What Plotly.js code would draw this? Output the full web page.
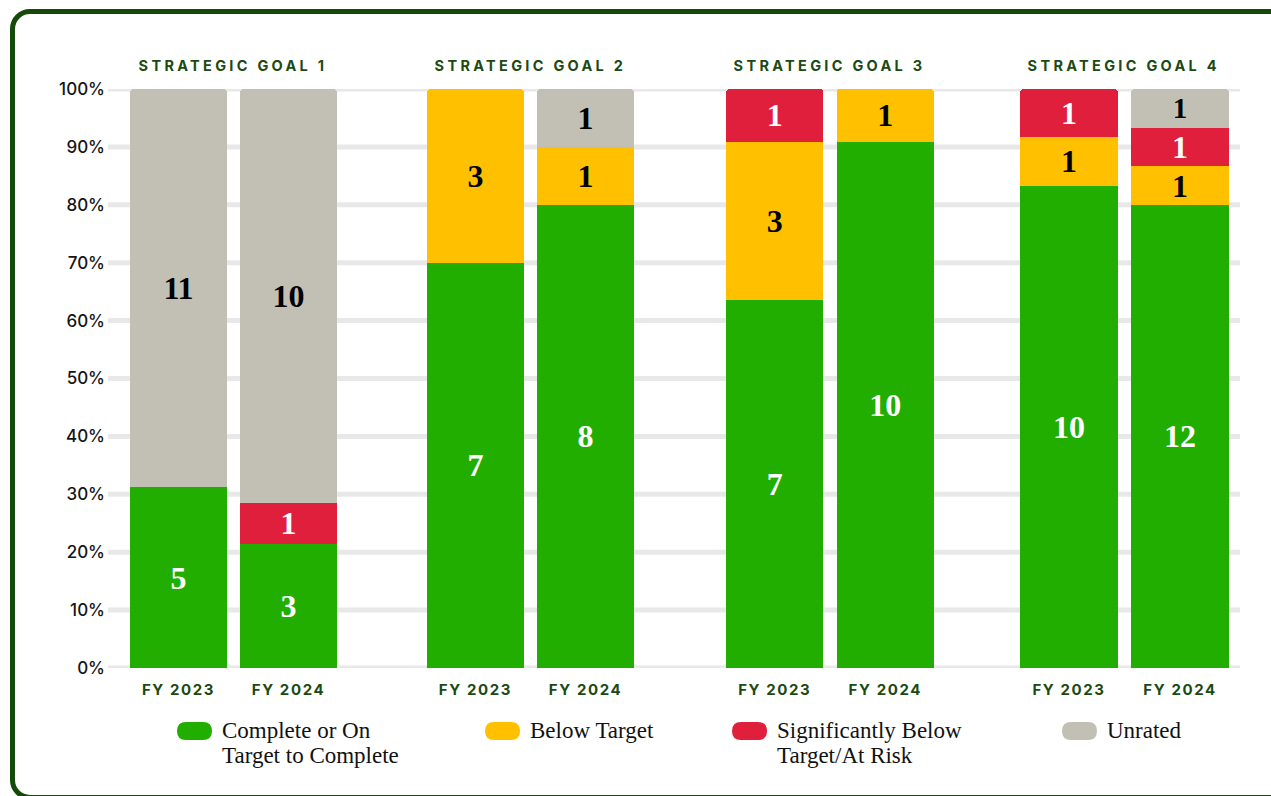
<!DOCTYPE html>
<html>
<head>
<meta charset="utf-8">
<script src="https://cdn.plot.ly/plotly-3.0.1.min.js"></script>
<style>
  html, body { margin: 0; padding: 0; background: #ffffff; }
  #wrap { position: relative; width: 1271px; height: 796px; overflow: hidden; }
  #frame { position: absolute; left: 10px; top: 9px; width: 1290px; height: 791px;
           border: 5px solid #164A0A; border-radius: 20px; box-sizing: border-box; }
  #chart { position: absolute; left: 0; top: 0; width: 1271px; height: 796px; }
  .xtick text, .x2tick text, .x3tick text, .x4tick text { letter-spacing: 1.6px; }
  .annotation[data-index="0"] text, .annotation[data-index="1"] text,
  .annotation[data-index="2"] text, .annotation[data-index="3"] text { letter-spacing: 3.3px; }
</style>
</head>
<body>
<div id="wrap">
  <div id="frame"></div>
  <div id="chart"></div>
</div>
<script>
// ---- data ----
const categories = ['FY 2023', 'FY 2024'];
const goals = ['STRATEGIC GOAL 1', 'STRATEGIC GOAL 2', 'STRATEGIC GOAL 3', 'STRATEGIC GOAL 4'];
const seriesNames = ['Complete or On<br>Target to Complete', 'Below Target', 'Significantly Below<br>Target/At Risk', 'Unrated'];
// per goal: [FY 2023, FY 2024]
const complete  = [[5, 3], [7, 8], [7, 10], [10, 12]];
const below     = [[0, 0], [3, 1], [3, 1], [1, 1]];
const sigBelow  = [[0, 1], [0, 0], [1, 0], [1, 1]];
const unrated   = [[11, 10], [0, 1], [0, 0], [0, 1]];
const yTicks = [0, 10, 20, 30, 40, 50, 60, 70, 80, 90, 100];
const yTickText = ['0%', '10%', '20%', '30%', '40%', '50%', '60%', '70%', '80%', '90%', '100%'];

// ---- styles ----
const colors = ['#22AE00', '#FFC000', '#E01F3D', '#C2BFB4'];
const textColors = ['#FFFFFF', '#000000', '#FFFFFF', '#000000'];
const seriesData = [complete, below, sigBelow, unrated];
const domains = [[0.0137, 0.2080], [0.2760, 0.4704], [0.5402, 0.7354], [0.7999, 0.9960]];
const titleGreen = '#1B4A12';
const sansFont = 'Inter, "Open Sans", sans-serif';
const serifFont = '"Liberation Serif", "DejaVu Serif", serif';

const traces = [];
goals.forEach((g, gi) => {
  const ax = gi === 0 ? '' : String(gi + 1);
  seriesData.forEach((series, si) => {
    const vals = series[gi];
    traces.push({
      type: 'bar',
      x: categories,
      y: vals,
      xaxis: 'x' + ax,
      yaxis: 'y' + ax,
      name: seriesNames[si],
      marker: { color: colors[si], line: { width: 0 } },
      text: vals.map(v => v ? String(v) : ''),
      textposition: 'inside',
      insidetextanchor: 'middle',
      textangle: 0,
      constraintext: 'none',
      textfont: { family: serifFont, size: 32, color: textColors[si], weight: 700 },
      hoverinfo: 'skip',
      showlegend: false
    });
  });
});

const layout = {
  width: 1271, height: 796,
  margin: { l: 108, r: 31, t: 89, b: 128 },
  paper_bgcolor: 'rgba(0,0,0,0)',
  plot_bgcolor: 'rgba(0,0,0,0)',
  barmode: 'stack',
  barnorm: 'percent',
  bargap: 0.118,
  barcornerradius: 4,
  showlegend: false,
  shapes: [],
  annotations: []
};

goals.forEach((g, gi) => {
  const ax = gi === 0 ? '' : String(gi + 1);
  layout['xaxis' + ax] = {
    domain: domains[gi],
    anchor: 'y' + ax,
    type: 'category',
    showgrid: false, zeroline: false, showline: false, ticks: '',
    ticklabelstandoff: 11,
    tickfont: { family: sansFont, size: 15, color: titleGreen, weight: 700 },
    fixedrange: true
  };
  if (gi === 0) {
    layout.yaxis = {
      range: [0, 100], anchor: 'free', position: 0,
      showgrid: false, zeroline: false, showline: false, ticks: '',
      tickmode: 'array', tickvals: yTicks, ticktext: yTickText,
      ticklabelstandoff: 3,
      tickfont: { family: sansFont, size: 17, color: '#151515', weight: 500 },
      fixedrange: true
    };
  } else {
    layout['yaxis' + ax] = {
      range: [0, 100], anchor: 'x' + ax, visible: false,
      showgrid: false, zeroline: false, fixedrange: true
    };
  }
  layout.annotations.push({
    text: g, xref: 'x' + ax + ' domain', yref: 'paper',
    x: 0.5, y: 1, yanchor: 'bottom', xanchor: 'center', yshift: 13, showarrow: false,
    font: { family: sansFont, size: 14.5, color: titleGreen, weight: 700 }
  });
});

// gridlines spanning full width
yTicks.forEach(t => {
  layout.shapes.push({
    type: 'line', xref: 'paper', yref: 'y', x0: 0, x1: 1, y0: t, y1: t,
    line: { color: '#E8E8E8', width: 5 }, layer: 'below'
  });
});

// custom legend with pill markers
const legendX = [177, 485, 732, 1062];   // pixel left of pill
const plotL = 108, plotW = 1271 - 108 - 31, plotT = 89, plotH = 796 - 89 - 128;
const px = v => (v - plotL) / plotW;
const py = v => 1 - (v - plotT) / plotH;
seriesNames.forEach((name, si) => {
  const x0 = legendX[si], x1 = x0 + 35, yTop = 722, yBot = 740, r = 9;
  const path = `M ${px(x0 + r)} ${py(yTop)} L ${px(x1 - r)} ${py(yTop)} ` +
    `Q ${px(x1)} ${py(yTop)} ${px(x1)} ${py((yTop + yBot) / 2)} ` +
    `Q ${px(x1)} ${py(yBot)} ${px(x1 - r)} ${py(yBot)} ` +
    `L ${px(x0 + r)} ${py(yBot)} Q ${px(x0)} ${py(yBot)} ${px(x0)} ${py((yTop + yBot) / 2)} ` +
    `Q ${px(x0)} ${py(yTop)} ${px(x0 + r)} ${py(yTop)} Z`;
  layout.shapes.push({
    type: 'path', xref: 'paper', yref: 'paper', path: path,
    fillcolor: colors[si], line: { width: 0 }, layer: 'above'
  });
  name.split('<br>').forEach((line, li) => {
    layout.annotations.push({
      text: line, xref: 'paper', yref: 'paper',
      x: px(x0 + 43), y: py(730 + li * 25), xanchor: 'left', yanchor: 'middle',
      showarrow: false,
      font: { family: serifFont, size: 23, color: '#111111' }
    });
  });
});

Plotly.newPlot('chart', traces, layout, { displayModeBar: false, staticPlot: true });
</script>
</body>
</html>
